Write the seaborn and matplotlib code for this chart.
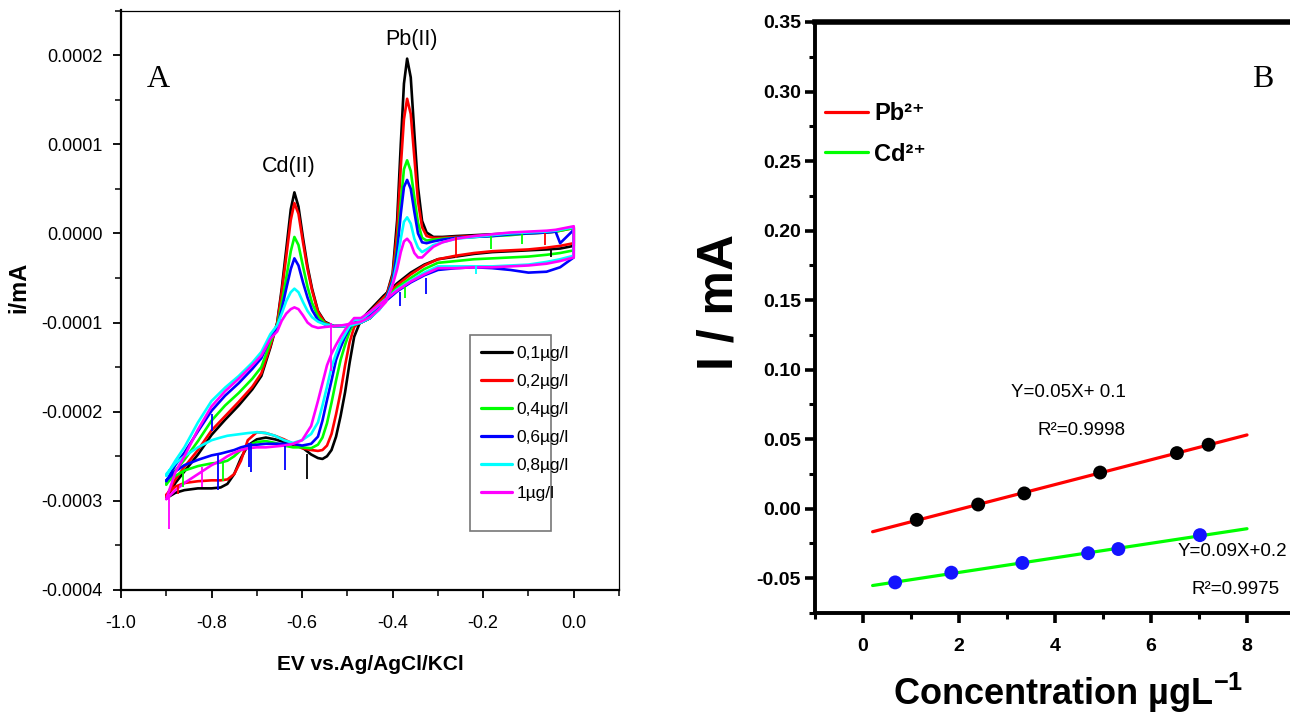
import numpy as np
import pandas as pd
import matplotlib
matplotlib.use("Agg")
import matplotlib.pyplot as plt
import seaborn as sns
from matplotlib.lines import Line2D
from matplotlib.patches import Rectangle
from matplotlib.ticker import MultipleLocator, FormatStrFormatter

# ---------------- Panel A data (currents in units of 1e-6 mA) ----------------
i_unit = 1e-6
curve_labels = ["0,1µg/l", "0,2µg/l", "0,4µg/l", "0,6µg/l", "0,8µg/l", "1µg/l"]
curve_colors = ["#000000", "#ff0000", "#00ff00", "#0000ff", "#00ffff", "#ff00ff"]

# forward (upper) branch potentials, -0.9 V -> 0.0 V
up_E = [-0.900, -0.880, -0.860, -0.830, -0.800, -0.770, -0.740, -0.710, -0.690, -0.670,
        -0.655, -0.645, -0.635, -0.625, -0.617, -0.608, -0.598, -0.588, -0.578, -0.565, -0.550,
        -0.530, -0.510, -0.490, -0.470, -0.450, -0.430, -0.415,
        -0.400, -0.390, -0.382, -0.375, -0.368, -0.360, -0.352, -0.344, -0.335, -0.325, -0.310,
        -0.290, -0.260, -0.220, -0.180, -0.140, -0.100, -0.060, -0.040, -0.030, 0.000]

up_01 = [-297, -280, -267, -248, -226, -209, -193, -175, -160, -128,
         -100, -62, -18, 27, 46, 30, -5, -37, -62, -87, -99,
         -104, -104, -103, -100, -95, -85, -72,
         -45, 15, 100, 168, 196, 175, 112, 52, 14, 1, -4,
         -4, -3, -2, -1, 0, 1, 2, 3, 4, 7]
up_02 = [-295, -276, -262, -243, -221, -205, -189, -172, -157, -126,
         -101, -66, -26, 15, 34, 22, -10, -40, -64, -88, -100,
         -104, -104, -103, -100, -95, -85, -72,
         -48, 2, 75, 128, 151, 134, 85, 36, 7, -3, -5,
         -5, -4, -3, -2, -1, 0, 1, 2, 3, 6]
up_04 = [-282, -266, -254, -233, -210, -193, -179, -163, -150, -122,
         -104, -78, -50, -20, -4, -13, -37, -60, -78, -93, -101,
         -104, -104, -103, -100, -95, -85, -74,
         -52, -15, 35, 72, 82, 70, 40, 12, -5, -8, -7,
         -6, -5, -4, -3, -2, 0, 1, 2, 3, 6]
up_06 = [-278, -260, -246, -222, -199, -182, -168, -152, -140, -117,
         -106, -85, -62, -40, -28, -36, -55, -72, -86, -97, -102,
         -104, -104, -103, -100, -95, -85, -74,
         -53, -20, 22, 52, 60, 50, 24, 0, -10, -11, -9,
         -7, -5, -4, -3, -1, 0, 1, 2, -11, 4]
up_08 = [-272, -255, -240, -212, -188, -173, -160, -145, -133, -113,
         -103, -90, -76, -66, -62, -66, -77, -87, -94, -99, -102,
         -104, -104, -103, -100, -95, -86, -76,
         -56, -32, -6, 13, 18, 11, -6, -16, -21, -18, -13,
         -10, -6, -4, -2, 0, 1, 2, 3, 4, 7]
up_10 = [-298, -268, -250, -220, -194, -177, -163, -148, -137, -118,
         -110, -98, -90, -85, -83, -85, -92, -100, -104, -106, -105,
         -104, -103, -101, -99, -94, -85, -77,
         -58, -40, -21, -9, -6, -11, -22, -27, -27, -22, -15,
         -10, -6, -3, -1, 1, 2, 3, 4, 5, 8]

# reverse (lower) branch potentials, 0.0 V -> -0.9 V
low_E = [0.000, -0.030, -0.060, -0.100, -0.140, -0.180, -0.220, -0.260,
         -0.300, -0.330, -0.360, -0.390, -0.420, -0.450, -0.470,
         -0.485, -0.495, -0.505, -0.515, -0.525, -0.535, -0.545, -0.555, -0.565, -0.580,
         -0.600, -0.620, -0.640, -0.660, -0.680, -0.700, -0.720, -0.735, -0.750, -0.765,
         -0.780, -0.800, -0.830, -0.860, -0.880, -0.900]

low_01 = [-14, -17, -18, -19, -20, -21, -23, -26,
          -29, -35, -44, -56, -70, -86, -97,
          -116, -145, -178, -205, -228, -243, -250, -253, -252, -248,
          -240, -237, -234, -231, -229, -231, -238, -252, -270, -281, -285, -286, -286, -288, -291, -297]
low_02 = [-11, -14, -16, -18, -19, -20, -22, -25,
          -29, -36, -46, -58, -72, -88, -98,
          -105, -122, -148, -178, -203, -225, -238, -243, -244, -243,
          -241, -236, -231, -227, -224, -223, -232, -255, -270, -276, -277, -277, -278, -280, -284, -293]
low_04 = [-19, -22, -24, -26, -27, -28, -29, -31,
          -33, -40, -50, -61, -75, -89, -98,
          -100, -110, -125, -142, -165, -190, -213, -229, -237, -241,
          -240, -240, -238, -235, -233, -234, -238, -243, -250, -255, -257, -258, -261, -266, -272, -280]
low_06 = [-27, -38, -43, -44, -41, -39, -38, -39,
          -41, -47, -55, -65, -78, -91, -98,
          -98, -106, -116, -128, -142, -165, -187, -210, -228, -236,
          -238, -236, -236, -236, -236, -237, -238, -240, -243, -245, -247, -249, -254, -260, -267, -277]
low_08 = [-25, -29, -32, -35, -36, -37, -37, -37,
          -37, -44, -53, -63, -76, -89, -97,
          -97, -104, -113, -122, -135, -150, -172, -193, -212, -225,
          -232, -235, -232, -227, -224, -223, -224, -225, -226, -227, -229, -232, -240, -250, -258, -270]
low_10 = [-27, -31, -34, -36, -37, -38, -38, -39,
          -39, -46, -54, -64, -76, -88, -95,
          -95, -101, -108, -116, -125, -135, -148, -168, -188, -216,
          -232, -236, -238, -239, -240, -240, -241, -243, -246, -250, -255, -260, -270, -280, -288, -298]

# narrow noise spikes visible on the traces
spike_E = [-0.537, -0.895, -0.590, -0.637, -0.712, -0.718, -0.785, -0.800, -0.775, -0.862,
           -0.820, -0.875, -0.261, -0.183, -0.115, -0.063, -0.050, -0.216, -0.383, -0.372, -0.327]
spike_top = [-100, -296, -248, -238, -235, -235, -249, -203, -258, -266,
             -262, -282, -4, -3, -1, 0, -17, -37, -66, -60, -50]
spike_bottom = [-154, -332, -275, -265, -268, -262, -288, -222, -278, -284,
                -285, -292, -28, -18, -12, -13, -26, -45, -82, -72, -68]
spike_curve = ["1µg/l", "1µg/l", "0,1µg/l", "0,6µg/l", "0,6µg/l", "0,6µg/l", "0,6µg/l",
               "0,6µg/l", "0,4µg/l", "0,4µg/l", "1µg/l", "0,2µg/l", "0,2µg/l", "0,4µg/l",
               "0,4µg/l", "0,2µg/l", "0,1µg/l", "0,8µg/l", "0,6µg/l", "0,4µg/l", "0,6µg/l"]

# ---------------- Panel B data ----------------
pb_conc = [1.12, 2.40, 3.36, 4.94, 6.54, 7.20]
pb_current = [-0.008, 0.003, 0.011, 0.026, 0.040, 0.046]
cd_conc = [0.67, 1.84, 3.32, 4.69, 5.32, 7.02]
cd_current = [-0.053, -0.046, -0.039, -0.032, -0.029, -0.019]
fit_range = [0.2, 8.0]

# ---------------- style ----------------
sns.set_style("ticks")
SANS = ["Liberation Sans", "DejaVu Sans"]
plt.rcParams["font.family"] = SANS
plt.rcParams["mathtext.fontset"] = "custom"
plt.rcParams["mathtext.rm"] = "Liberation Sans"
plt.rcParams["mathtext.bf"] = "Liberation Sans:bold"
plt.rcParams["text.color"] = "black"
plt.rcParams["axes.labelcolor"] = "black"
plt.rcParams["xtick.color"] = "black"
plt.rcParams["ytick.color"] = "black"
plt.rcParams["axes.edgecolor"] = "black"

W, H = 1290, 716
fig = plt.figure(figsize=(W / 100, H / 100), dpi=100)
axA = fig.add_axes([121 / W, 1 - 590 / H, 498 / W, 579.5 / H])
axB = fig.add_axes([815 / W, 1 - 613 / H, 480 / W, 591 / H])

# ---------------- Panel A ----------------
up_lists = [up_01, up_02, up_04, up_06, up_08, up_10]
low_lists = [low_01, low_02, low_04, low_06, low_08, low_10]
frames = []
for lab, up, low in zip(curve_labels, up_lists, low_lists):
    frames.append(pd.DataFrame({"E": up_E + low_E,
                                "i": np.array(up + low, dtype=float) * i_unit,
                                "curve": lab}))
dfA = pd.concat(frames, ignore_index=True)
pal = dict(zip(curve_labels, curve_colors))

sns.lineplot(data=dfA, x="E", y="i", hue="curve", hue_order=curve_labels, palette=pal,
             sort=False, estimator=None, lw=1.9, legend=False, ax=axA)
axA.vlines(spike_E, np.array(spike_bottom) * i_unit, np.array(spike_top) * i_unit,
           colors=[pal[c] for c in spike_curve], lw=1.3, zorder=2)

axA.set_xlim(-1.0, 0.1)
axA.set_ylim(-0.0004, 0.00025)
axA.xaxis.set_major_locator(MultipleLocator(0.2))
axA.xaxis.set_minor_locator(MultipleLocator(0.1))
axA.yaxis.set_major_locator(MultipleLocator(0.0001))
axA.yaxis.set_minor_locator(MultipleLocator(0.00005))
axA.xaxis.set_major_formatter(FormatStrFormatter("%.1f"))
axA.yaxis.set_major_formatter(FormatStrFormatter("%.4f"))
axA.tick_params(axis="both", which="major", direction="out", length=6, width=1.3, labelsize=13)
axA.tick_params(axis="both", which="minor", direction="out", length=4, width=1.1)
axA.tick_params(axis="y", pad=7)
axA.tick_params(axis="x", pad=12)
axA.tick_params(top=False, right=False, which="both")
for s in ["left", "bottom"]:
    axA.spines[s].set_linewidth(1.6)
for s in ["top", "right"]:
    axA.spines[s].set_linewidth(0.9)

axA.set_xlabel("EV vs.Ag/AgCl/KCl", fontsize=15, fontweight="bold")
axA.xaxis.set_label_coords(0.5, -0.113)
axA.set_ylabel("i/mA", fontsize=17, fontweight="bold")
axA.yaxis.set_label_coords(-0.181, 0.523)

axA.text(-0.6305, 0.0000753, "Cd(II)", fontsize=15.5, ha="center", va="center")
axA.text(-0.358, 0.000217, "Pb(II)", fontsize=15.5, ha="center", va="center")
axA.text(-0.918, 0.000173, "A", fontsize=23, ha="center", va="center",
         family=["Liberation Serif", "DejaVu Serif"])

# legend box
bx0, bx1 = (470 - 121) / 498, (551 - 121) / 498
by0, by1 = (590 - 531) / 579.5, (590 - 335) / 579.5
axA.add_patch(Rectangle((bx0, by0), bx1 - bx0, by1 - by0, transform=axA.transAxes,
                        facecolor="white", edgecolor="#777777", lw=1.2, zorder=4))
handlesA = [Line2D([], [], color=c, lw=2.3) for c in curve_colors]
legA = axA.legend(handlesA, curve_labels, loc="upper left", bbox_to_anchor=(bx0, by1),
                  frameon=False, fontsize=12.5, handlelength=1.8, handletextpad=0.25,
                  labelspacing=0.74, borderpad=0.62, borderaxespad=0.0)
legA.set_zorder(5)

# ---------------- Panel B ----------------
fit_x = np.array(fit_range)
pb_fit = np.polyfit(pb_conc, pb_current, 1)
cd_fit = np.polyfit(cd_conc, cd_current, 1)
sns.lineplot(x=fit_x, y=np.polyval(pb_fit, fit_x), color="#ff0000", lw=2.3, ax=axB)
sns.lineplot(x=fit_x, y=np.polyval(cd_fit, fit_x), color="#00ff00", lw=2.3, ax=axB)
sns.scatterplot(x=pb_conc, y=pb_current, color="black", s=100, edgecolor="none", zorder=3, ax=axB)
sns.scatterplot(x=cd_conc, y=cd_current, color="#1414ff", s=100, edgecolor="none", zorder=3, ax=axB)

axB.set_xlim(-1, 9)
axB.set_ylim(-0.075, 0.35)
axB.xaxis.set_major_locator(MultipleLocator(2))
axB.xaxis.set_minor_locator(MultipleLocator(1))
axB.yaxis.set_major_locator(MultipleLocator(0.05))
axB.yaxis.set_minor_locator(MultipleLocator(0.025))
axB.yaxis.set_major_formatter(FormatStrFormatter("%.2f"))
axB.xaxis.set_major_formatter(FormatStrFormatter("%d"))
axB.tick_params(axis="both", which="major", direction="out", length=7, width=2.6, labelsize=14)
axB.tick_params(axis="both", which="minor", direction="out", length=4, width=2.2)
axB.tick_params(axis="y", pad=3)
axB.tick_params(axis="x", pad=11)
axB.tick_params(top=False, right=False, which="both")
for lab in axB.get_xticklabels() + axB.get_yticklabels():
    lab.set_fontweight("bold")
axB.spines["left"].set_linewidth(2.8)
axB.spines["bottom"].set_linewidth(2.8)
axB.spines["top"].set_linewidth(4.0)
axB.spines["right"].set_visible(False)

axB.set_ylabel("I / mA", fontsize=36, fontweight="bold")
axB.yaxis.set_label_coords(-0.152, 0.526)
axB.set_xlabel(r"Concentration µgL$^{\mathbf{-1}}$", fontsize=26, fontweight="bold")
axB.xaxis.set_label_coords(0.527, -0.097)

axB.text(4.28, 0.0835, "Y=0.05X+ 0.1", fontsize=13.5, ha="center", va="center")
axB.text(4.55, 0.0561, "R²=0.9998", fontsize=13.5, ha="center", va="center")
axB.text(7.70, -0.0309, "Y=0.09X+0.2", fontsize=13.5, ha="center", va="center", clip_on=False)
axB.text(7.76, -0.0583, "R²=0.9975", fontsize=13.5, ha="center", va="center", clip_on=False)
axB.text(8.32, 0.309, "B", fontsize=23, ha="center", va="center",
         family=["Liberation Serif", "DejaVu Serif"])

handlesB = [Line2D([], [], color="#ff0000", lw=2.3), Line2D([], [], color="#00ff00", lw=2.3)]
axB.legend(handlesB, ["Pb²⁺", "Cd²⁺"], loc="upper left", bbox_to_anchor=(0.02, 0.865),
           frameon=False, prop={"family": SANS, "weight": "bold", "size": 17},
           handlelength=1.85, handletextpad=0.25, labelspacing=0.76, borderpad=0.0,
           borderaxespad=0.0)

fig.savefig("out.png", dpi=100)
